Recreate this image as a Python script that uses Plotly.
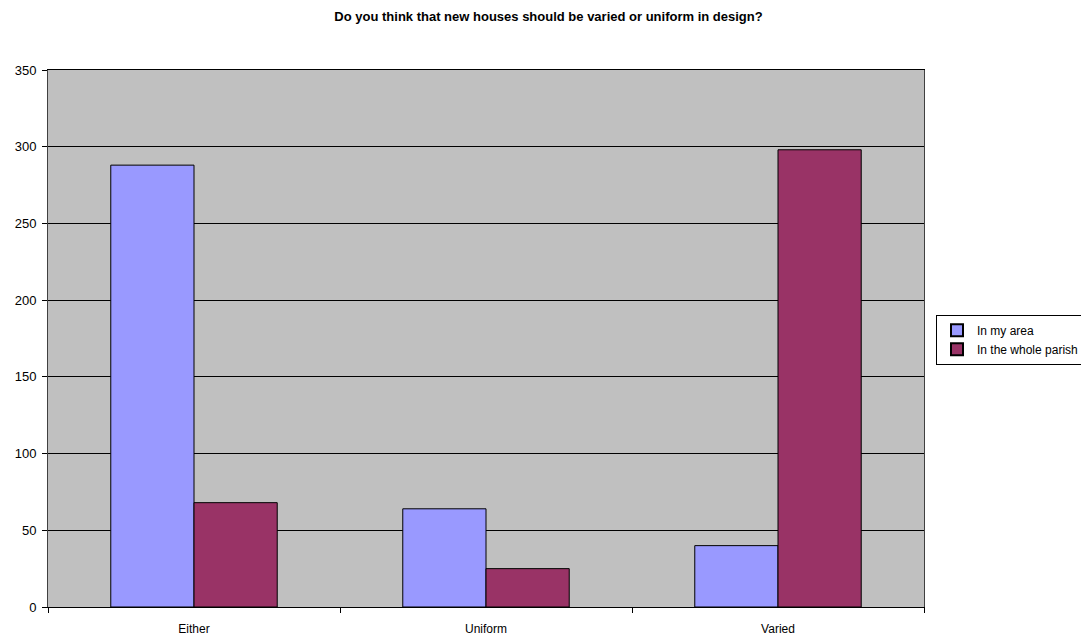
import plotly.graph_objects as go

categories = ['Either', 'Uniform', 'Varied']
in_my_area = [288, 64, 40]
whole_parish = [68, 25, 298]

fig = go.Figure()
fig.add_trace(go.Bar(x=categories, y=in_my_area, name='In my area',
                     marker=dict(color='#9999FF', line=dict(color='black', width=1))))
fig.add_trace(go.Bar(x=categories, y=whole_parish, name='In the whole parish',
                     marker=dict(color='#993366', line=dict(color='black', width=1))))

# page body has an 8px margin, so the figure is sized to fit inside the window
fig.update_layout(
    width=1081, height=631,
    margin=dict(l=40, r=165, t=62, b=32, autoexpand=False),
    barmode='group', bargap=0.43, bargroupgap=0,
    plot_bgcolor='#C0C0C0', paper_bgcolor='white',
    font=dict(family='Liberation Sans, Arial', size=12, color='black'),
    title=dict(text='<b>Do you think that new houses should be varied or uniform in design?</b>',
               x=0.5, xanchor='center', y=0.986, yanchor='middle', font=dict(size=13)),
    legend=dict(x=1.0137, y=0.544, xanchor='left', yanchor='top',
                bordercolor='black', borderwidth=1, font=dict(size=12),
                itemsizing='constant', tracegroupgap=0, itemwidth=30),
    showlegend=True,
)
fig.update_xaxes(showline=True, linecolor='black', linewidth=1, mirror=True,
                 ticks='outside', ticklen=5, tickcolor='black', tickson='boundaries',
                 tickfont=dict(size=12), automargin=False, ticklabelstandoff=11)
fig.update_yaxes(range=[0, 350], dtick=50, showgrid=True, gridcolor='black', gridwidth=1,
                 showline=True, linecolor='#404040', linewidth=1, mirror=True,
                 ticks='outside', ticklen=5, tickcolor='black', zeroline=False,
                 tickfont=dict(size=13), automargin=False, ticklabelstandoff=3)

fig.write_html('out.html')
